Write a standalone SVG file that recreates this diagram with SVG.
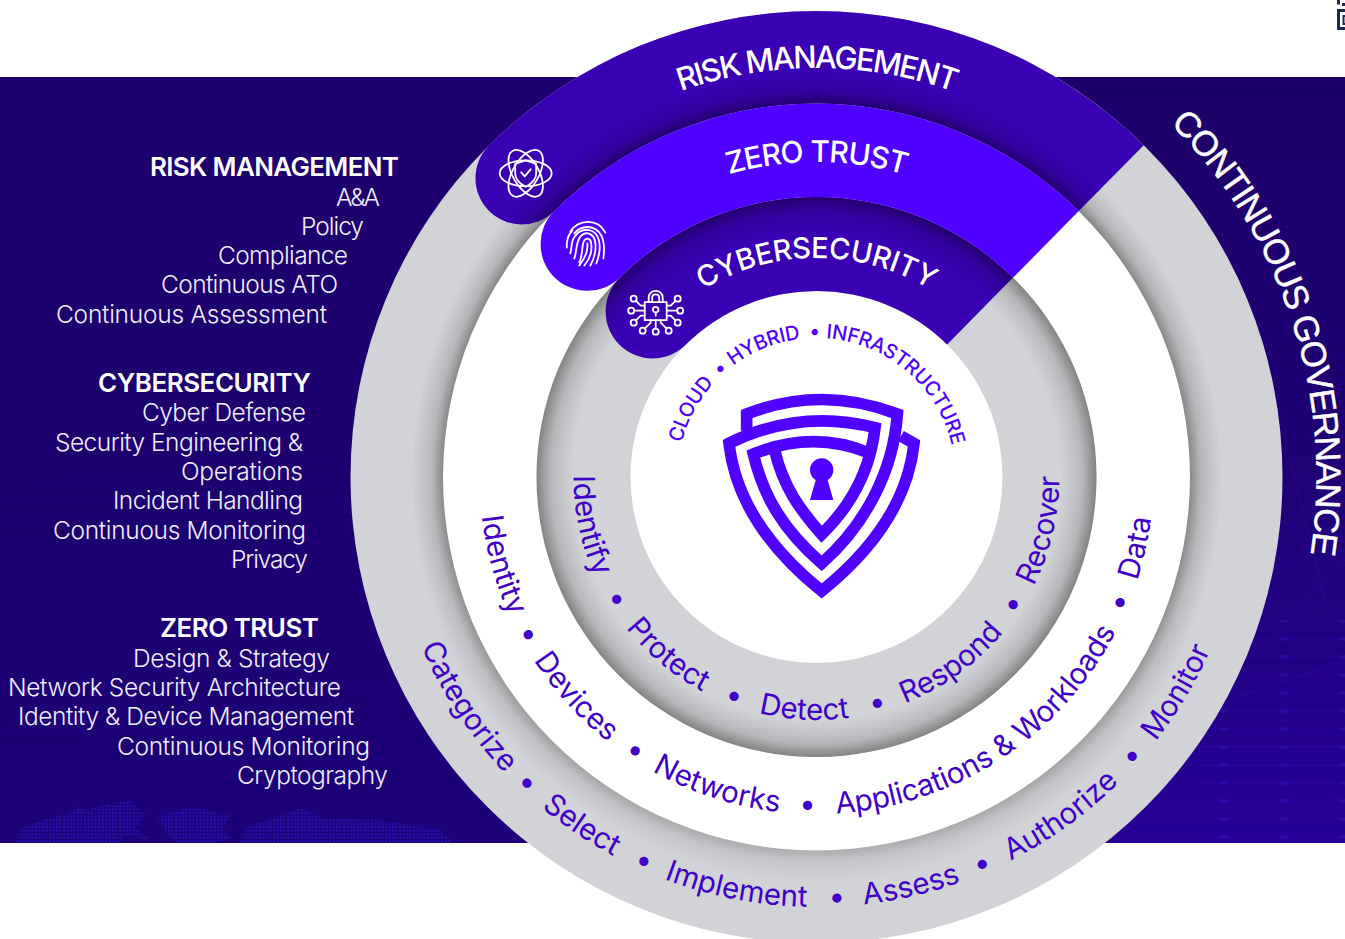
<svg xmlns="http://www.w3.org/2000/svg" xmlns:xlink="http://www.w3.org/1999/xlink" width="1345" height="939" viewBox="0 0 1345 939">
<style>
.l{font-family:Inter,"Noto Sans",sans-serif;font-weight:300;font-size:24.5px;fill:#f1eefb}
.h{font-family:Inter,"Noto Sans",sans-serif;font-weight:600;font-size:26px;fill:#fff}
.b{font-family:Inter,"Liberation Sans",sans-serif;font-weight:500;fill:#fff}
.c{font-family:Inter,"Liberation Sans",sans-serif;font-weight:400;fill:#3f00c8;font-size:29.5px}
.i{font-family:Inter,"Liberation Sans",sans-serif;font-weight:450;fill:#5000ff;font-size:20px;letter-spacing:-.3px}
.g{font-family:"Liberation Sans",Arial,sans-serif;font-weight:400;fill:#fff;font-size:35px;letter-spacing:-1.2px;stroke:#fff;stroke-width:.5px}
.ic{fill:none;stroke:#fff;stroke-width:1.8;stroke-linecap:round;stroke-linejoin:round}
.band1{fill:#3a00b4}.band2{fill:#5000ff}
.grey{fill:#d2d3d6}
</style>
<defs>
<linearGradient id="bg" x1="0" y1="0" x2="0.25" y2="1"><stop offset="0" stop-color="#1d006c"/><stop offset=".45" stop-color="#1c006e"/><stop offset="1" stop-color="#1c0078"/></linearGradient>
<linearGradient id="bgr" x1="0" y1="0" x2="0" y2="1"><stop offset="0" stop-color="#1c0068"/><stop offset=".5" stop-color="#1f0074"/><stop offset="1" stop-color="#260096"/></linearGradient>
<clipPath id="bgclip"><rect x="0" y="77" width="1345" height="766"/></clipPath>
<pattern id="lines" width="12" height="13" patternUnits="userSpaceOnUse"><rect width="12" height="2" y="5" fill="#3a18d0" opacity=".05"/></pattern>
<pattern id="grid" width="60" height="18" patternUnits="userSpaceOnUse" x="20" y="0"><rect x="0" y="8" width="60" height="1.6" fill="#4a20e0" opacity=".10"/><rect x="0" y="7" width="7" height="4" fill="#4a20e0" opacity=".22"/></pattern>
<pattern id="dots" width="3.500" height="3.500" patternUnits="userSpaceOnUse"><rect width="2.300" height="2.300" fill="#2a12b8"/></pattern>
<radialGradient id="sh1" gradientUnits="userSpaceOnUse" cx="816.5" cy="477" r="405"><stop offset=".922" stop-color="#000" stop-opacity=".38"/><stop offset=".95" stop-color="#000" stop-opacity=".14"/><stop offset="1" stop-color="#000" stop-opacity="0"/></radialGradient>
<radialGradient id="sh2" gradientUnits="userSpaceOnUse" cx="816.5" cy="477" r="280"><stop offset=".87" stop-color="#000" stop-opacity="0"/><stop offset=".95" stop-color="#000" stop-opacity=".13"/><stop offset="1" stop-color="#000" stop-opacity=".38"/></radialGradient>
<linearGradient id="fade" gradientUnits="userSpaceOnUse" x1="816" y1="100" x2="816" y2="860"><stop offset="0" stop-color="#fff"/><stop offset=".6" stop-color="#fff" stop-opacity=".9"/><stop offset="1" stop-color="#fff" stop-opacity=".45"/></linearGradient>
<mask id="fm" maskUnits="userSpaceOnUse" x="0" y="0" width="1345" height="939"><rect width="1345" height="939" fill="url(#fade)"/></mask>

<path id="tR" d="M816.5 886A409 409 0 1 1 816.5 68A409 409 0 1 1 816.5 886Z"/>
<path id="tZ" d="M816.5 792A315 315 0 1 1 816.5 162A315 315 0 1 1 816.5 792Z"/>
<path id="tC" d="M816.5 696A219 219 0 1 1 816.5 258A219 219 0 1 1 816.5 696Z"/>
<path id="tI" d="M816.5 616A139 139 0 1 1 816.5 338A139 139 0 1 1 816.5 616Z"/>
<path id="tG" d="M816.5 977A500 500 0 1 1 816.5 -23A500 500 0 1 1 816.5 977Z"/>
<path id="bO" d="M816.5 47A430 430 0 1 0 816.5 907A430 430 0 1 0 816.5 47Z"/>
<path id="bM" d="M816.5 140A337 337 0 1 0 816.5 814A337 337 0 1 0 816.5 140Z"/>
<path id="bN" d="M816.5 234A243 243 0 1 0 816.5 720A243 243 0 1 0 816.5 234Z"/>
</defs>

<g id="background">
<rect x="0" y="77" width="1345" height="766" fill="url(#bg)"/>
<rect x="1050" y="77" width="295" height="766" fill="url(#bgr)"/>
<rect x="0" y="77" width="1345" height="766" fill="url(#lines)"/>
<rect x="1200" y="620" width="145" height="223" fill="url(#grid)"/>
<path d="M1290 460L1330 620M1270 640L1345 560M1230 700L1345 660" stroke="#3a14c8" stroke-width="1" opacity=".3" fill="none"/>
<g fill="url(#dots)" opacity=".8" clip-path="url(#bgclip)">
<path d="M12 852L22 828L50 818L72 812L78 806L100 816L90 808L130 800L145 815L135 828L150 840L125 835L115 850H50Z"/>
<path d="M158 817L190 807L230 815L222 830L232 838L185 850L165 832Z"/>
<path d="M235 850L248 826L270 820L300 808L322 818L380 820L440 830L460 850Z"/>
</g>
</g>

<g id="rings">
<circle class="grey" cx="816.5" cy="477" r="466"/>
<circle cx="816.5" cy="477" r="373.5" fill="#fff"/>
<circle class="grey" cx="816.5" cy="477" r="280"/>
<circle cx="816.5" cy="477" r="186" fill="#fff"/>
</g>

<g id="risk-band"><path class="band1" d="M488.7 145.8A466 466 0 0 1 1143.7 145.2L1078.8 211.1A373.5 373.5 0 0 0 553.8 211.5A46.25 46.25 0 0 1 488.7 145.8Z"/></g>
<g id="cyber-band"><path class="band1" d="M619.5 278A280 280 0 0 1 1013.1 277.6L947.1 344.6A186 186 0 0 0 685.7 344.8A47 47 0 0 1 619.5 278Z"/></g>

<g id="shadows">
<path mask="url(#fm)" fill="url(#sh1)" fill-rule="evenodd" d="M816.5 72A405 405 0 1 1 816.5 882A405 405 0 1 1 816.5 72ZM816.5 103.5A373.5 373.5 0 1 0 816.5 850.5A373.5 373.5 0 1 0 816.5 103.5Z"/>
<path fill="url(#sh2)" fill-rule="evenodd" d="M816.5 197A280 280 0 1 1 816.5 757A280 280 0 1 1 816.5 197ZM816.5 233A244 244 0 1 0 816.5 721A244 244 0 1 0 816.5 233Z"/>
</g>

<g id="zero-band"><path class="band2" d="M553.8 211.5A373.5 373.5 0 0 1 1078.8 211.1L1013.1 277.6A280 280 0 0 0 619.5 278A46.75 46.75 0 0 1 553.8 211.5Z"/></g>

<g id="risk-icon" class="ic" transform="translate(525.7 173.3)">
<ellipse rx="26" ry="13"/><ellipse rx="26" ry="13" transform="rotate(60)"/><ellipse rx="26" ry="13" transform="rotate(120)"/>
<path d="M0 -13L10.5 -9.5V0C10.5 7 5 11 0 13.5C-5 11 -10.5 7 -10.5 0V-9.5Z"/>
<path d="M-4.5 -1L-1 3L5 -4"/>
</g>
<g id="zero-icon" class="ic" transform="translate(587.3 241.5)">
<path d="M-17 -10C-9 -22 10 -24 18 -9"/>
<path d="M-20.500 6C-21 -2 -19 -7 -15 -11"/>
<path d="M-13 -8C-6 -17 8 -17 14 -6C18 2 17 10 16 17"/>
<path d="M-17 12C-15 4 -17 -2 -9 -9C-2 -14 8 -12 11 -3C14 5 12 14 9 22"/>
<path d="M-13 17C-10 9 -12 0 -6 -6C0 -11 7 -7 8 1C9 9 7 17 3 24"/>
<path d="M-8 21C-4 13 -6 3 -3 -1C0 -5 4 -2 4 3C5 11 2 18 -3 24"/>
<path d="M0 2C1 9 -1 15 -8 24"/>
</g>
<g id="cyber-icon" class="ic" transform="translate(655.700 310.700)">
<rect x="-11" y="-8.500" width="22" height="18"/>
<path d="M-7 -8.500V-13C-7 -22 7 -22 7 -13V-8.500M-3.500 -8.500V-13C-3.500 -17.500 3.500 -17.500 3.500 -13V-8.500"/>
<circle cy="-1" r="2.800"/><path d="M0 1.800V5"/>
<path d="M-11 0H-21.500M-11 -5H-15L-19.500 -9.500M-11 5H-15L-19.500 9.500M11 0H21.500M11 -5H15L19.500 -9.500M11 5H15L19.500 9.500M0 9.500V18M-5 9.500V12L-11 18M5 9.500V12L11 18"/>
<circle cx="-24.500" r="3"/><circle cx="-22" cy="-12" r="3"/><circle cx="-22" cy="12" r="3"/><circle cx="24.500" r="3"/><circle cx="22" cy="-12" r="3"/><circle cx="22" cy="12" r="3"/><circle cy="21" r="3"/><circle cx="-13" cy="20" r="3"/><circle cx="13" cy="20" r="3"/>
</g>

<g id="shield" transform="translate(700 380) scale(.33333)">
<g fill="none" stroke="#5000ff" stroke-width="35" stroke-linejoin="miter">
<path d="M140 152V102Q365 15 592 102C580 280 490 440 365 550C250 450 190 350 160 222Q340 150 505 218"/>
<path d="M603 168L642 190C625 350 530 500 365 633C200 500 105 350 87 190Q300 85 525 143C510 280 450 380 365 463C300 390 250 320 225 215"/>
</g>
<circle cx="365" cy="270" r="35" fill="#5000ff"/>
<path d="M350 290H380L400 360H330Z" fill="#5000ff"/>
</g>

<g id="band-labels">
<text class="b" text-anchor="middle" style="font-size:31px;letter-spacing:-1.9px"><textPath href="#tR" startOffset="50%">RISK MANAGEMENT</textPath></text>
<text class="b" text-anchor="middle" style="font-size:30px;letter-spacing:-1px"><textPath href="#tZ" startOffset="50%">ZERO TRUST</textPath></text>
<text class="b" text-anchor="middle" style="font-size:29px;letter-spacing:-.3px"><textPath href="#tC" startOffset="50%">CYBERSECURITY</textPath></text>
<text class="g" text-anchor="middle"><textPath href="#tG" startOffset="69.97%">CONTINUOUS GOVERNANCE</textPath></text>
</g>

<g id="center-ring-labels" text-anchor="middle">
<text class="i"><textPath href="#tI" startOffset="32.86%">CLOUD</textPath></text>
<text class="i"><textPath href="#tI" startOffset="38.42%">•</textPath></text>
<text class="i"><textPath href="#tI" startOffset="43.94%">HYBRID</textPath></text>
<text class="i"><textPath href="#tI" startOffset="49.78%">•</textPath></text>
<text class="i"><textPath href="#tI" startOffset="61.22%">INFRASTRUCTURE</textPath></text>
</g>

<g id="outer-ring-labels" text-anchor="middle">
<text class="c"><textPath href="#bO" startOffset="34.28%">Categorize</textPath></text>
<text class="c"><textPath href="#bO" startOffset="37.94%">•</textPath></text>
<text class="c"><textPath href="#bO" startOffset="40.56%">Select</textPath></text>
<text class="c"><textPath href="#bO" startOffset="43.28%">•</textPath></text>
<text class="c"><textPath href="#bO" startOffset="46.94%">Implement</textPath></text>
<text class="c"><textPath href="#bO" startOffset="50.78%">•</textPath></text>
<text class="c"><textPath href="#bO" startOffset="53.61%">Assess</textPath></text>
<text class="c"><textPath href="#bO" startOffset="56.44%">•</textPath></text>
<text class="c"><textPath href="#bO" startOffset="59.94%">Authorize</textPath></text>
<text class="c"><textPath href="#bO" startOffset="63.47%">•</textPath></text>
<text class="c"><textPath href="#bO" startOffset="66.44%">Monitor</textPath></text>
</g>
<g id="middle-ring-labels" text-anchor="middle">
<text class="c"><textPath href="#bM" startOffset="29.33%">Identity</textPath></text>
<text class="c"><textPath href="#bM" startOffset="32.97%">•</textPath></text>
<text class="c"><textPath href="#bM" startOffset="36.78%">Devices</textPath></text>
<text class="c"><textPath href="#bM" startOffset="40.69%">•</textPath></text>
<text class="c"><textPath href="#bM" startOffset="45.06%">Networks</textPath></text>
<text class="c"><textPath href="#bM" startOffset="49.56%">•</textPath></text>
<text class="c" style="letter-spacing:-.3px"><textPath href="#bM" startOffset="59.17%">Applications &amp; Workloads</textPath></text>
<text class="c"><textPath href="#bM" startOffset="68.75%">•</textPath></text>
<text class="c"><textPath href="#bM" startOffset="71.53%">Data</textPath></text>
</g>
<g id="inner-ring-labels" text-anchor="middle">
<text class="c"><textPath href="#bN" startOffset="28.33%">Identify</textPath></text>
<text class="c"><textPath href="#bN" startOffset="33.75%">•</textPath></text>
<text class="c"><textPath href="#bN" startOffset="38.94%">Protect</textPath></text>
<text class="c"><textPath href="#bN" startOffset="44.28%">•</textPath></text>
<text class="c"><textPath href="#bN" startOffset="49.17%">Detect</textPath></text>
<text class="c"><textPath href="#bN" startOffset="54.17%">•</textPath></text>
<text class="c"><textPath href="#bN" startOffset="59.94%">Respond</textPath></text>
<text class="c"><textPath href="#bN" startOffset="65.83%">•</textPath></text>
<text class="c"><textPath href="#bN" startOffset="71.31%">Recover</textPath></text>
</g>

<g id="risk-list">
<text class="h" x="150" y="176" textLength="249">RISK MANAGEMENT</text>
<text class="l" x="336" y="206" textLength="44">A&amp;A</text>
<text class="l" x="301" y="235" textLength="63">Policy</text>
<text class="l" x="218" y="264" textLength="130">Compliance</text>
<text class="l" x="161" y="293" textLength="177">Continuous ATO</text>
<text class="l" x="56" y="323" textLength="271">Continuous Assessment</text>
</g>
<g id="cyber-list">
<text class="h" x="98" y="392" textLength="213">CYBERSECURITY</text>
<text class="l" x="142" y="421" textLength="164">Cyber Defense</text>
<text class="l" x="55" y="451" textLength="248">Security Engineering &amp;</text>
<text class="l" x="181" y="480" textLength="122">Operations</text>
<text class="l" x="113" y="509" textLength="190">Incident Handling</text>
<text class="l" x="53" y="539" textLength="253">Continuous Monitoring</text>
<text class="l" x="231" y="568" textLength="77">Privacy</text>
</g>
<g id="zero-list">
<text class="h" x="160" y="637" textLength="159">ZERO TRUST</text>
<text class="l" x="133" y="667" textLength="197">Design &amp; Strategy</text>
<text class="l" x="8" y="696" textLength="333">Network Security Architecture</text>
<text class="l" x="18" y="725" textLength="336">Identity &amp; Device Management</text>
<text class="l" x="117" y="755" textLength="253">Continuous Monitoring</text>
<text class="l" x="237" y="784" textLength="151">Cryptography</text>
</g>

<g id="corner-mark" fill="none" stroke="#1b2a55" stroke-width="3">
<path d="M1345 10.500H1338.500V28.500H1345"/>
<path d="M1345 16H1343.500V24H1345" stroke-width="2"/>
<path d="M1338.500 0V4.500M1342 4.500H1345" stroke-width="3"/>
</g>
</svg>
